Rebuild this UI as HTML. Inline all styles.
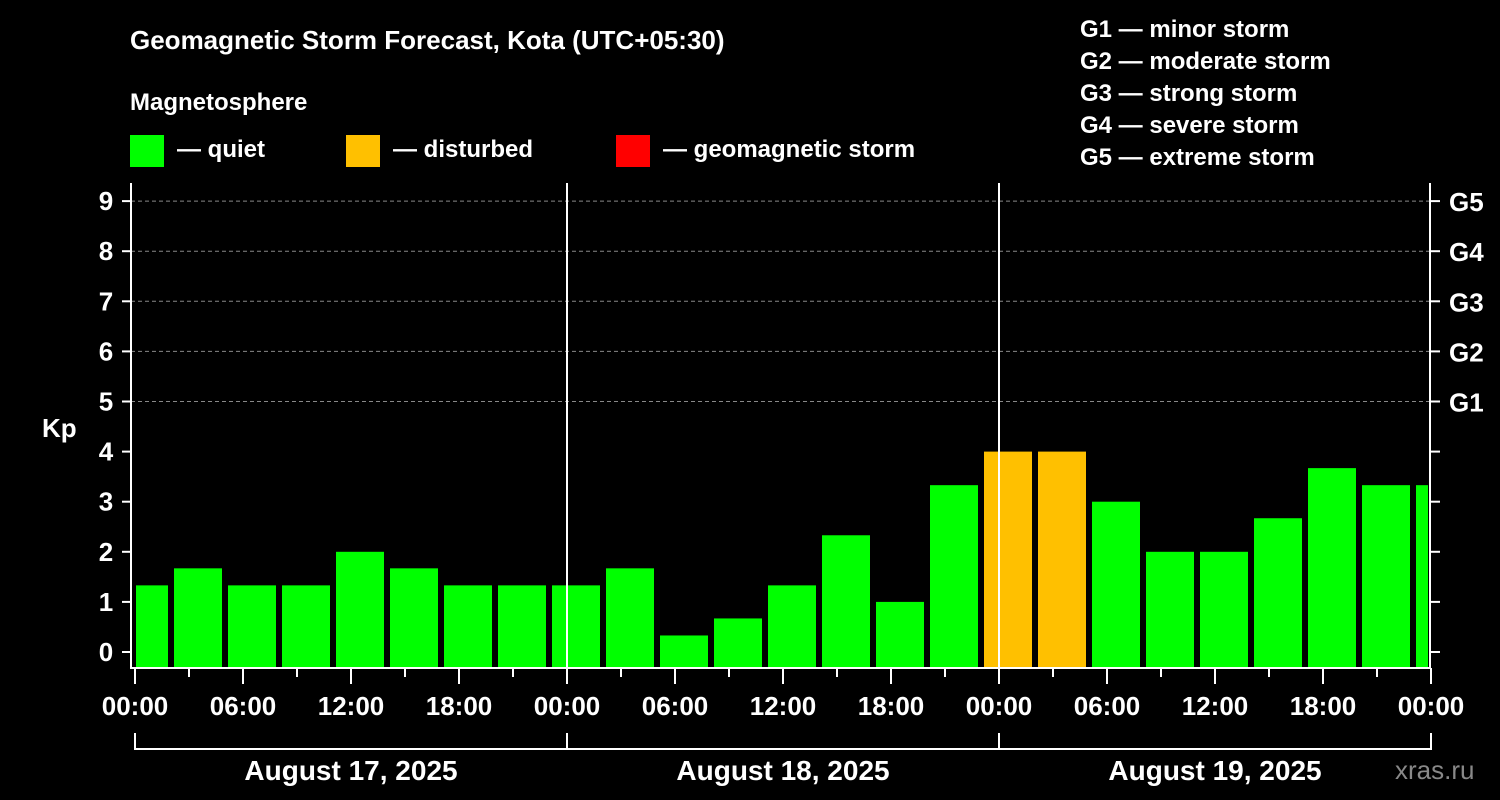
<!DOCTYPE html>
<html><head><meta charset="utf-8"><style>
body{margin:0;background:#000;}
svg{display:block;font-family:"Liberation Sans",sans-serif;font-weight:bold;}
</style></head><body>
<svg id="c" width="1500" height="800" viewBox="0 0 1500 800">
<rect width="1500" height="800" fill="#000"/>
<text x="130" y="49" fill="#fff" font-size="26">Geomagnetic Storm Forecast, Kota (UTC+05:30)</text>
<text x="130" y="110" fill="#fff" font-size="24">Magnetosphere</text>
<g><rect x="130" y="135" width="34" height="32" fill="#00ff00"/><text x="177" y="157" fill="#fff" font-size="24">— quiet</text></g>
<g><rect x="346" y="135" width="34" height="32" fill="#ffc000"/><text x="393" y="157" fill="#fff" font-size="24">— disturbed</text></g>
<g><rect x="616" y="135" width="34" height="32" fill="#ff0000"/><text x="663" y="157" fill="#fff" font-size="24">— geomagnetic storm</text></g>
<g fill="#fff" font-size="24">
<text x="1080" y="37">G1 — minor storm</text><text x="1080" y="69">G2 — moderate storm</text><text x="1080" y="101">G3 — strong storm</text><text x="1080" y="133">G4 — severe storm</text><text x="1080" y="165">G5 — extreme storm</text></g>
<text x="42" y="437" fill="#fff" font-size="26">Kp</text>
<text x="1395" y="779" fill="#888" font-size="26" font-weight="normal">xras.ru</text>
<g id="plot"></g>
</svg>
<script>
const values=[1.33,1.67,1.33,1.33,2,1.67,1.33,1.33,1.33,1.67,0.33,0.67,1.33,2.33,1,3.33,4,4,3,2,2,2.67,3.67,3.33,3.33];
const yTicks=[0,1,2,3,4,5,6,7,8,9];
const gLabels=["G1","G2","G3","G4","G5"];
const xLabels=["00:00","06:00","12:00","18:00","00:00","06:00","12:00","18:00","00:00","06:00","12:00","18:00","00:00"];
const dayLabels=["August 17, 2025","August 18, 2025","August 19, 2025"];
const NS="http://www.w3.org/2000/svg";
const g=document.getElementById('plot');
const L=131,R=1430,T=183,B=668;
const x=h=>135+h*18;
const y=v=>652-v*50.1;
function mk(t,a,txt){const e=document.createElementNS(NS,t);for(const k in a)e.setAttribute(k,a[k]);if(txt!==undefined)e.textContent=txt;g.appendChild(e);return e;}
yTicks.forEach(v=>{
 if(v>=5){const l=mk('line',{x1:L,x2:R,y1:y(v),y2:y(v),stroke:'#888','stroke-dasharray':'4,3','stroke-width':1});
 
 }
 const t=mk('line',{x1:122,x2:L,y1:y(v),y2:y(v),stroke:'#fff','stroke-width':2});
 
 
 const rt=mk('line',{x1:R,x2:1440,y1:y(v),y2:y(v),stroke:'#fff','stroke-width':2});
 
 
 const lb=mk('text',{x:106,y:y(v)+9,fill:'#fff','font-size':26,'text-anchor':'middle'},String(v));
 
 
});
gLabels.forEach((s,i)=>{const t=mk('text',{x:1449,y:y(5+i)+10,fill:'#fff','font-size':26},s);
 
 });
values.forEach((v,i)=>{
 let x0=x(-1+3*i)+3,x1=x(2+3*i)-3;
 x0=Math.max(x0,136);x1=Math.min(x1,1428);
 const r=mk('rect',{x:x0,y:y(v),width:x1-x0,height:B-y(v),fill:v>=4?'#ffc000':(v>=5?'#ff0000':'#00ff00')});
 
 
});
[1,2].forEach(d=>{const l=mk('line',{x1:x(24*d),x2:x(24*d),y1:T,y2:B,stroke:'#fff','stroke-width':2});
 
 });
const fr=mk('path',{d:`M${L},${T}V${B}H${R}V${T}`,fill:'none',stroke:'#fff','stroke-width':2});


for(let h=0;h<=72;h+=3){const maj=h%6===0;
 const t=mk('line',{x1:x(h),x2:x(h),y1:B,y2:B+(maj?16:9),stroke:'#fff','stroke-width':2});
 
 }
xLabels.forEach((s,i)=>{const t=mk('text',{x:x(i*6),y:715,fill:'#fff','font-size':26,'text-anchor':'middle'},s);
 
 });
const br=mk('path',{d:`M${x(0)},733V749H${x(72)}V733M${x(24)},733V749M${x(48)},733V749`,fill:'none',stroke:'#fff','stroke-width':2});


dayLabels.forEach((s,i)=>{const t=mk('text',{x:x(24*i+12),y:780,fill:'#fff','font-size':28,'text-anchor':'middle'},s);
 
 });
</script>
</body></html>
